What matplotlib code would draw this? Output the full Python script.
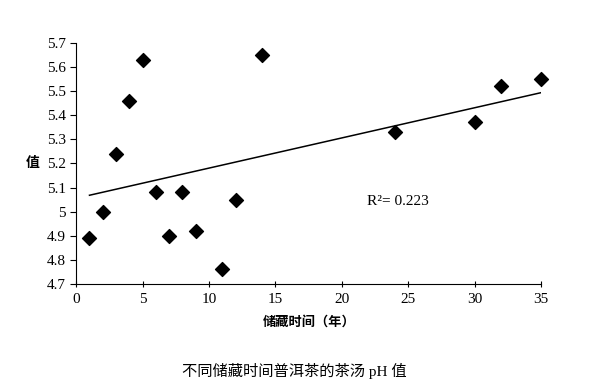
import matplotlib.pyplot as plt
import numpy as np
from matplotlib.ticker import FuncFormatter

# storage years vs tea-soup pH
years = [1, 2, 3, 4, 5, 6, 7, 8, 9, 11, 12, 14, 24, 30, 32, 35]
ph = [4.89, 5.00, 5.24, 5.46, 5.63, 5.08, 4.90, 5.08, 4.92, 4.76, 5.05, 5.65, 5.33, 5.37, 5.52, 5.55]
x_ticks = [0, 5, 10, 15, 20, 25, 30, 35]
y_ticks = [4.7, 4.8, 4.9, 5.0, 5.1, 5.2, 5.3, 5.4, 5.5, 5.6, 5.7]

serif = ['Liberation Serif', 'Noto Sans CJK SC']
cjk = ['Noto Sans CJK SC', 'DejaVu Sans']

fig = plt.figure(figsize=(6, 3.91), dpi=100)
ax = fig.add_axes([0.127, 0.274, 0.775, 0.616])

ax.scatter(years, ph, marker='D', s=50, color='black', zorder=3, clip_on=False)

# linear trend line
k, b = np.polyfit(years, ph, 1)
xs = np.array([min(years), max(years)])
ax.plot(xs, k * xs + b, color='black', lw=1.1)

ax.set_xlim(0, 35)
ax.set_ylim(4.7, 5.7)
ax.set_xticks(x_ticks)
ax.set_yticks(y_ticks)
ax.yaxis.set_major_formatter(FuncFormatter(lambda v, p: '%g' % round(v, 1)))
for s in ['top', 'right']:
    ax.spines[s].set_visible(False)
ax.tick_params(axis='x', direction='inout', length=5, labelsize=11, pad=4)
ax.tick_params(axis='y', direction='out', length=4, labelsize=11)
for lab in ax.get_xticklabels() + ax.get_yticklabels():
    lab.set_family(serif)

ax.text(21.9, 5.044, 'R²= 0.223', fontsize=11, family=serif, va='center')

ax.set_ylabel('值', rotation=0, fontsize=10, family=cjk, fontweight='bold', labelpad=10, va='center')
ax.set_xlabel('储藏时间（年）', fontsize=9.5, family=cjk, fontweight='bold', labelpad=6)

fig.text(0.49, 0.052, '不同储藏时间普洱茶的茶汤 pH 值', fontsize=11, family=serif, ha='center', va='center')

fig.savefig('out.png', dpi=100)
